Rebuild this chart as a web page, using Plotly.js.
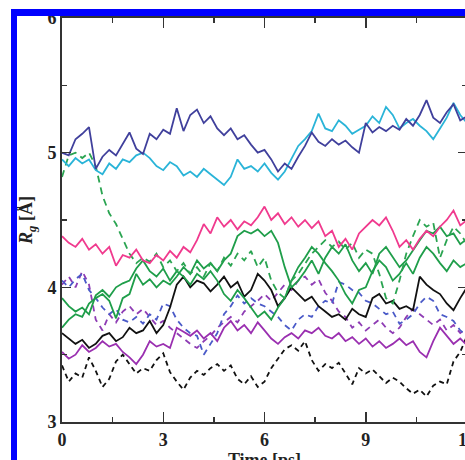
<!DOCTYPE html>
<html>
<head>
<meta charset="utf-8">
<script src="https://cdn.plot.ly/plotly-3.0.1.min.js"></script>
<style>
  html, body { margin: 0; padding: 0; background: #fff; overflow: hidden; }
  #wrap { position: relative; width: 465px; height: 460px; overflow: hidden; background: #fff; }
  #chart { position: absolute; left: 0; top: 0; width: 480px; height: 480px; }
  .bar { position: absolute; background: #0000ff; }
</style>
</head>
<body>
<div id="wrap">
  <div id="chart"></div>
  <div class="bar" style="left:11px; top:9px; width:454px; height:7px;"></div>
  <div class="bar" style="left:11px; top:9px; width:6px; height:451px;"></div>
</div>
<script>
// Time axis (ps), sampled every 0.2 ps
const time = [0,0.2,0.4,0.6,0.8,1.0,1.2,1.4,1.6,1.8,2.0,2.2,2.4,2.6,2.8,3.0,3.2,3.4,3.6,3.8,4.0,4.2,4.4,4.6,4.8,5.0,5.2,5.4,5.6,5.8,6.0,6.2,6.4,6.6,6.8,7.0,7.2,7.4,7.6,7.8,8.0,8.2,8.4,8.6,8.8,9.0,9.2,9.4,9.6,9.8,10.0,10.2,10.4,10.6,10.8,11.0,11.2,11.4,11.6,11.8,12.0];

const navySolid = [5.00,4.98,5.10,5.14,5.19,4.88,4.97,5.02,4.98,5.06,5.15,5.03,4.99,5.14,5.10,5.17,5.14,5.33,5.16,5.28,5.32,5.22,5.27,5.18,5.13,5.18,5.10,5.13,5.06,5.00,5.02,4.95,4.86,4.92,4.88,4.97,5.05,5.15,5.08,5.05,5.10,5.06,5.09,5.04,5.00,5.22,5.15,5.19,5.16,5.20,5.17,5.25,5.20,5.28,5.39,5.26,5.22,5.30,5.36,5.24,5.27];

const cyanSolid = [4.95,4.90,4.96,4.92,4.95,4.87,4.84,4.92,4.88,4.95,4.93,4.98,5.00,4.96,4.90,4.87,4.93,4.90,4.83,4.86,4.82,4.88,4.84,4.80,4.76,4.82,4.95,4.88,4.90,4.86,4.92,4.85,4.80,4.86,4.95,5.05,5.10,5.16,5.29,5.18,5.16,5.24,5.20,5.14,5.17,5.20,5.27,5.22,5.34,5.28,5.18,5.22,5.25,5.20,5.16,5.10,5.18,5.26,5.37,5.28,5.22];

const pinkSolid = [4.38,4.33,4.30,4.36,4.28,4.32,4.25,4.30,4.16,4.24,4.22,4.28,4.20,4.18,4.24,4.20,4.27,4.22,4.30,4.26,4.35,4.47,4.40,4.52,4.45,4.50,4.43,4.49,4.46,4.52,4.60,4.50,4.55,4.47,4.52,4.45,4.50,4.44,4.49,4.38,4.42,4.30,4.36,4.28,4.40,4.45,4.50,4.46,4.52,4.42,4.30,4.35,4.28,4.36,4.42,4.38,4.45,4.50,4.57,4.46,4.50];

const greenDashed = [4.82,4.98,5.00,4.96,5.00,4.90,4.68,4.55,4.47,4.36,4.25,4.18,4.22,4.19,4.25,4.15,4.20,4.12,4.18,4.10,4.15,4.08,4.18,4.12,4.22,4.16,4.25,4.20,4.27,4.15,4.22,4.05,3.96,3.92,4.05,4.10,4.18,4.25,4.30,4.35,4.30,4.34,4.28,4.33,4.22,4.28,4.25,4.10,3.92,3.88,4.05,4.25,4.38,4.50,4.45,4.48,4.22,4.35,4.45,4.40,4.32];

const greenSolidA = [3.70,3.76,3.80,3.78,3.88,3.92,3.95,3.90,3.77,3.92,3.95,4.10,4.02,4.06,4.00,4.05,4.02,4.08,4.15,4.10,4.20,4.14,4.18,4.12,4.20,4.25,4.38,4.42,4.40,4.43,4.38,4.42,4.33,4.15,4.00,4.05,4.12,4.20,4.10,4.22,4.30,4.25,4.32,4.20,4.12,4.18,4.10,4.25,4.30,4.22,4.15,4.20,4.28,4.35,4.42,4.40,4.45,4.38,4.40,4.32,4.36];

const greenSolidB = [3.92,3.86,3.82,3.85,3.80,3.94,3.98,3.93,4.00,4.03,4.05,4.14,4.20,4.12,4.08,4.14,4.05,4.12,4.08,4.02,4.10,4.06,4.12,4.05,3.95,3.90,3.98,3.92,3.85,3.78,3.82,3.76,3.85,3.92,4.05,4.15,4.22,4.30,4.25,4.18,4.12,4.05,3.95,3.88,3.98,4.00,4.12,4.20,4.15,4.05,4.10,4.18,4.10,4.22,4.30,4.25,4.18,4.12,4.20,4.15,4.18];

const blackSolid = [3.66,3.62,3.58,3.61,3.55,3.58,3.64,3.66,3.60,3.63,3.70,3.66,3.68,3.75,3.66,3.72,3.85,4.02,4.08,4.00,4.05,4.03,3.97,4.02,4.08,4.00,4.04,3.93,3.98,4.10,4.05,3.98,3.86,3.92,4.00,3.95,3.90,3.93,3.86,3.82,3.78,3.80,3.76,3.84,3.80,3.78,3.92,3.95,3.88,3.90,3.84,3.86,3.83,4.08,4.02,3.98,3.95,3.88,3.83,3.92,4.00];

const blackDashed = [3.42,3.30,3.36,3.33,3.48,3.38,3.26,3.32,3.45,3.50,3.43,3.36,3.40,3.38,3.46,3.51,3.37,3.30,3.24,3.33,3.38,3.35,3.40,3.43,3.38,3.42,3.32,3.28,3.34,3.26,3.30,3.40,3.47,3.54,3.57,3.53,3.60,3.46,3.38,3.43,3.40,3.44,3.36,3.28,3.40,3.36,3.39,3.34,3.29,3.33,3.30,3.25,3.21,3.24,3.19,3.27,3.30,3.28,3.45,3.52,3.64];

const purpleSolid = [3.52,3.47,3.50,3.57,3.52,3.55,3.60,3.56,3.58,3.52,3.48,3.43,3.50,3.60,3.56,3.58,3.55,3.70,3.67,3.64,3.68,3.62,3.66,3.60,3.70,3.75,3.68,3.72,3.66,3.74,3.68,3.62,3.58,3.63,3.66,3.62,3.68,3.66,3.70,3.64,3.62,3.66,3.60,3.63,3.58,3.62,3.56,3.60,3.55,3.58,3.62,3.57,3.60,3.52,3.48,3.60,3.70,3.64,3.58,3.62,3.57];

const blueDashed = [4.05,4.00,4.06,4.10,3.98,3.92,3.85,3.80,3.84,3.76,3.74,3.78,3.73,3.80,3.76,3.88,3.86,3.76,3.70,3.66,3.64,3.50,3.58,3.66,3.80,3.86,3.94,3.88,3.92,3.88,3.86,3.82,3.78,3.72,3.68,3.76,3.80,3.78,3.86,3.90,3.88,4.04,4.02,3.98,3.96,3.90,3.88,3.84,3.80,3.82,3.73,3.76,3.80,3.88,3.93,3.90,3.80,3.78,3.75,3.68,3.64];

const purpleDashed = [4.02,4.08,4.00,4.12,4.02,3.76,3.68,3.80,3.74,3.82,3.86,3.80,3.84,3.78,3.72,3.75,3.70,3.66,3.62,3.58,3.55,3.60,3.64,3.70,3.74,3.78,3.74,3.82,3.86,3.90,3.95,3.90,3.96,4.02,3.98,4.05,4.08,4.02,4.06,3.96,3.90,3.82,3.78,3.70,3.74,3.68,3.72,3.76,3.70,3.66,3.70,3.78,3.84,3.80,3.76,3.72,3.76,3.68,3.72,3.66,3.70];

const xTicks = [0, 3, 6, 9, 12];
const yTicks = [3, 4, 5, 6];

function tr(y, color, dash) {
  return { x: time, y: y, type: 'scatter', mode: 'lines',
           line: { color: color, width: 1.8, dash: dash || 'solid' },
           showlegend: false, hoverinfo: 'skip' };
}

const data = [
  tr(blackDashed, '#111111', '5px,4px'),
  tr(purpleSolid, '#9a2fb0'),
  tr(purpleDashed, '#8e3cb4', '6px,5px'),
  tr(blueDashed, '#4a5ac8', '6px,5px'),
  tr(blackSolid, '#111111'),
  tr(greenSolidB, '#1f9e4a'),
  tr(greenSolidA, '#1f9e4a'),
  tr(greenDashed, '#2aa451', '7px,5px'),
  tr(pinkSolid, '#f03a8e'),
  tr(cyanSolid, '#2ab4d8'),
  tr(navySolid, '#40409c')
];

const tickFont = { family: 'Liberation Serif, Times New Roman, serif', size: 18, color: '#222', weight: 'bold' };

const layout = {
  width: 480, height: 480,
  margin: { l: 62, r: 13, t: 18, b: 58 },
  paper_bgcolor: '#ffffff', plot_bgcolor: '#ffffff',
  xaxis: {
    range: [0, 12], tickvals: xTicks, ticktext: xTicks.map(String),
    ticks: 'inside', ticklen: 10, tickwidth: 1.5, tickcolor: '#333',
    minor: { dtick: 1.5, ticks: 'inside', ticklen: 5, tickwidth: 1.5, tickcolor: '#333' },
    showline: true, linecolor: '#333', linewidth: 2, mirror: 'allticks',
    showgrid: false, zeroline: false, tickfont: tickFont,
    title: { text: 'Time [ps]', font: { family: 'Liberation Serif, Times New Roman, serif', size: 18, color: '#222', weight: 'bold' }, standoff: 2 }
  },
  yaxis: {
    range: [3, 6], tickvals: yTicks, ticktext: yTicks.map(String),
    ticks: 'inside', ticklen: 9, tickwidth: 1.5, tickcolor: '#333',
    minor: { dtick: 0.5, ticks: 'inside', ticklen: 5, tickwidth: 1.5, tickcolor: '#333' },
    showline: true, linecolor: '#333', linewidth: 2, mirror: 'allticks',
    showgrid: false, zeroline: false, tickfont: tickFont,
    title: { text: '<i>R</i><sub><i>g</i></sub> [Å]', font: { family: 'Liberation Serif, Times New Roman, serif', size: 18, color: '#222', weight: 'bold' }, standoff: 10 }
  }
};

Plotly.newPlot('chart', data, layout, { displayModeBar: false, staticPlot: true });
</script>
</body>
</html>
